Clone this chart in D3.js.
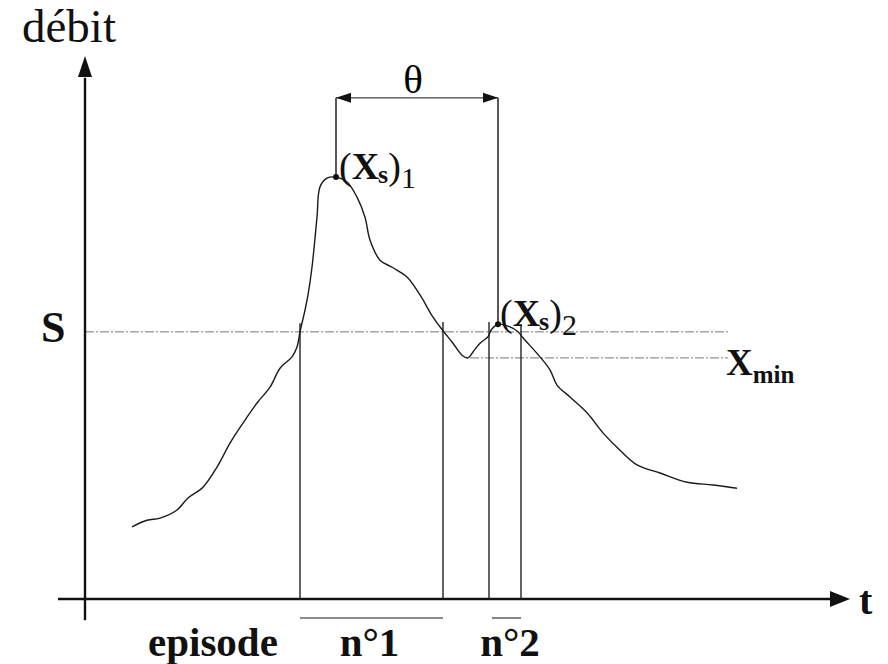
<!DOCTYPE html>
<html><head><meta charset="utf-8">
<script src="https://cdn.jsdelivr.net/npm/d3@7"></script>
<style>html,body{margin:0;padding:0;background:#fff}svg{display:block}</style>
</head><body>
<svg id="c" width="888" height="664"></svg>
<script>
// ---- data (t: time units, q: flow units) ----
const curveT = [47,62,75,92,103,118,132,145,158,172,185,195,207,212,215,220,223,227,232,235,242,251,262,272,280,285,295,308,322,335,348,358,368,377,383,388,395,403,406,413,425,433,438,455,465,472,485,502,518,535,552,575,602,628,652];
const curveQ = [13.3,14.5,14.9,16.4,18.6,20.6,24.3,28.7,32.4,36.1,39.0,42.5,44.6,46.4,49.2,53.2,56.0,61.1,70.3,75.9,77.5,77.7,76.8,74.0,70.3,66.1,62.4,61.0,59.3,56.0,51.9,49.4,47.1,44.9,44.4,45.5,47.1,48.3,49.5,50.6,50.1,49.2,48.1,44.6,42.2,39.4,37.2,34.3,30.6,27.4,24.7,23.2,21.5,21.0,20.4];
const thresholdS = 49.2;
const xMinValue = 44.4;
const xMinStart = 385;
const lineEnd = 643;
const episodeBounds = [215, 358, 404, 436];
const episodeTops = [50.8, 51.0, 51.0, 50.6];
const peaksT = [251, 413];
const peaksQ = [77.7, 50.6];
const thetaLevel = 92.3;
const episodeRanges = [[215, 358], [404, 436]];
const episodeLabels = ["n°1", "n°2"];

const svg = d3.select("#c");
const x = d3.scaleLinear().domain([0, 765]).range([85, 850]);
const y = d3.scaleLinear().domain([0, 100]).range([599, 56]);
const serif = "'Liberation Serif','Times New Roman',serif";

svg.append("rect").attr("width", 888).attr("height", 664).attr("fill", "#fff");

// threshold lines
svg.append("line").attr("x1", x(0)).attr("x2", x(lineEnd)).attr("y1", y(thresholdS)).attr("y2", y(thresholdS))
  .attr("stroke", "#777").attr("stroke-width", 1).attr("stroke-dasharray", "9,2,2,2");
svg.append("line").attr("x1", x(xMinStart)).attr("x2", x(lineEnd)).attr("y1", y(xMinValue)).attr("y2", y(xMinValue))
  .attr("stroke", "#777").attr("stroke-width", 1).attr("stroke-dasharray", "9,2,2,2");

// axes
svg.append("line").attr("x1", x(0)).attr("x2", x(0)).attr("y1", y(-3.9)).attr("y2", y(96))
  .attr("stroke", "#111").attr("stroke-width", 2.4);
svg.append("path").attr("d", `M${x(0)},${y(100)} L${x(0)-7},${y(100)+21} L${x(0)+7},${y(100)+21} Z`).attr("fill", "#111");
svg.append("line").attr("x1", x(-27)).attr("x2", x(748)).attr("y1", y(0)).attr("y2", y(0))
  .attr("stroke", "#111").attr("stroke-width", 2.6);
svg.append("path").attr("d", `M${x(765)},${y(0)} L${x(765)-20},${y(0)-8} L${x(765)-20},${y(0)+8} Z`).attr("fill", "#111");

// episode boundary lines
episodeBounds.forEach((t, i) => {
  svg.append("line").attr("x1", x(t)).attr("x2", x(t)).attr("y1", y(episodeTops[i])).attr("y2", y(0))
    .attr("stroke", "#222").attr("stroke-width", 1.4);
});

// hydrograph curve
const pts = curveT.map((t, i) => [t, curveQ[i]]);
svg.append("path").datum(pts)
  .attr("d", d3.line().x(d => x(d[0])).y(d => y(d[1])).curve(d3.curveCatmullRom))
  .attr("fill", "none").attr("stroke", "#1a1a1a").attr("stroke-width", 1.4);

// theta bracket
svg.append("line").attr("x1", x(peaksT[0])).attr("x2", x(peaksT[0])).attr("y1", y(thetaLevel)).attr("y2", y(peaksQ[0]))
  .attr("stroke", "#222").attr("stroke-width", 1.5);
svg.append("line").attr("x1", x(peaksT[1])).attr("x2", x(peaksT[1])).attr("y1", y(thetaLevel)).attr("y2", y(peaksQ[1]))
  .attr("stroke", "#222").attr("stroke-width", 1.5);
svg.append("line").attr("x1", x(peaksT[0])).attr("x2", x(peaksT[1])).attr("y1", y(thetaLevel)).attr("y2", y(thetaLevel))
  .attr("stroke", "#444").attr("stroke-width", 1.3);
const ty = y(thetaLevel);
svg.append("path").attr("d", `M${x(peaksT[0])},${ty} L${x(peaksT[0])+15},${ty-5} L${x(peaksT[0])+15},${ty+5} Z`).attr("fill", "#111");
svg.append("path").attr("d", `M${x(peaksT[1])},${ty} L${x(peaksT[1])-15},${ty-5} L${x(peaksT[1])-15},${ty+5} Z`).attr("fill", "#111");
svg.append("text").attr("x", (x(peaksT[0]) + x(peaksT[1])) / 2 - 4).attr("y", ty - 5)
  .attr("text-anchor", "middle").attr("font-family", serif).attr("font-size", 41).text("θ");

// peak dots
peaksT.forEach((t, i) => {
  svg.append("circle").attr("cx", x(t)).attr("cy", y(peaksQ[i])).attr("r", 3).attr("fill", "#111");
});

// peak labels
function peakLabel(px, py, idx) {
  const t = svg.append("text").attr("x", px).attr("y", py).attr("font-family", serif).attr("fill", "#111");
  t.append("tspan").attr("font-size", 38).text("(");
  t.append("tspan").attr("font-size", 38).attr("font-weight", "bold").text("X");
  t.append("tspan").attr("font-size", 26).attr("font-weight", "bold").attr("dx", -1).attr("dy", 4).text("s");
  t.append("tspan").attr("font-size", 38).attr("dy", -4).text(")");
  t.append("tspan").attr("font-size", 30).attr("dy", 9).text(idx);
}
peakLabel(x(peaksT[0]) + 3, y(peaksQ[0]) + 2, "1");
peakLabel(x(peaksT[1]) + 2, y(peaksQ[1]) + 2, "2");

// axis labels
svg.append("text").attr("x", 22).attr("y", 42).attr("font-family", serif).attr("font-size", 47).attr("fill", "#111").text("débit");
svg.append("text").attr("x", 859).attr("y", 614).attr("font-family", serif).attr("font-size", 40).attr("font-weight", "bold").attr("fill", "#111").text("t");
svg.append("text").attr("x", 41).attr("y", 342).attr("font-family", serif).attr("font-size", 44).attr("font-weight", "bold").attr("fill", "#111").text("S");
const xm = svg.append("text").attr("x", 726).attr("y", 375).attr("font-family", serif).attr("font-weight", "bold").attr("fill", "#111");
xm.append("tspan").attr("font-size", 37).text("X");
xm.append("tspan").attr("font-size", 25).attr("dy", 8).text("min");

// episode underlines and labels
episodeRanges.forEach((r, i) => {
  svg.append("line").attr("x1", x(r[0]) + (i ? 3 : 0)).attr("x2", x(r[1])).attr("y1", 618).attr("y2", 618)
    .attr("stroke", "#666").attr("stroke-width", 1.6);
  svg.append("text").attr("x", (x(r[0]) + x(r[1])) / 2 + (i ? 5 : -2)).attr("y", 656).attr("text-anchor", "middle")
    .attr("font-family", serif).attr("font-size", 41).attr("font-weight", "bold").attr("fill", "#111").text(episodeLabels[i]);
});
svg.append("text").attr("x", 148).attr("y", 656).attr("font-family", serif).attr("font-size", 41).attr("font-weight", "bold").attr("fill", "#111").text("episode");
</script>
</body></html>
